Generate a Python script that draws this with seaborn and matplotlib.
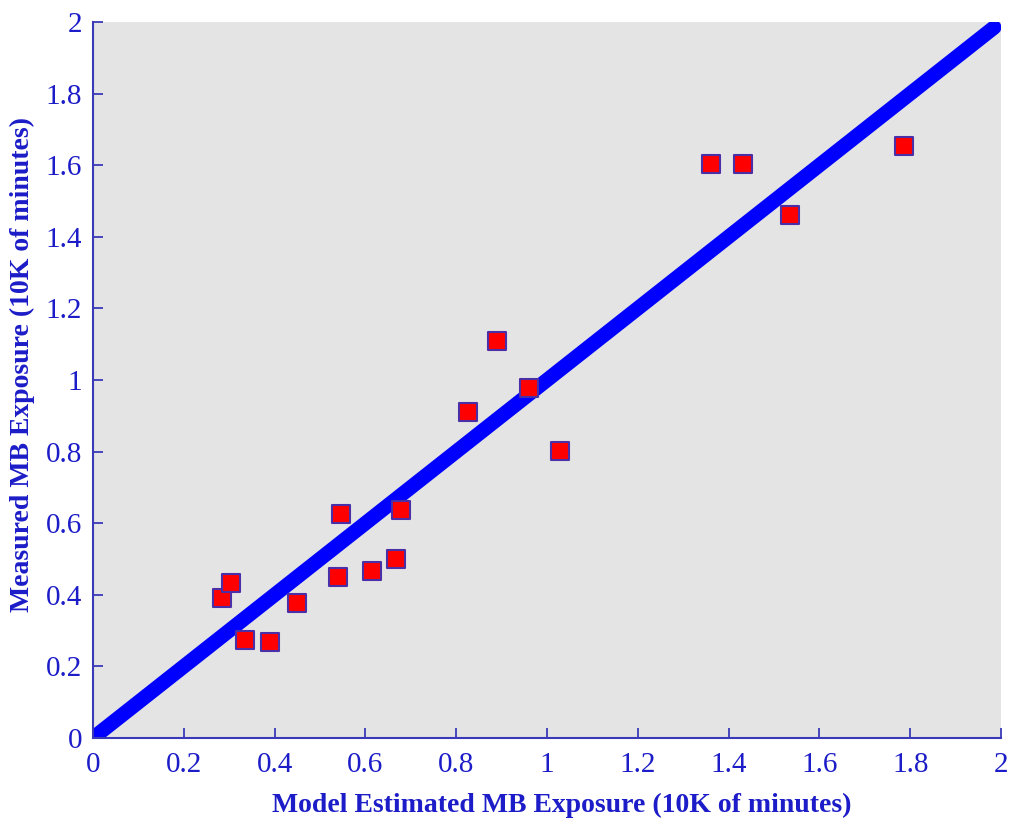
import matplotlib
matplotlib.use("Agg")
import matplotlib.pyplot as plt
import seaborn as sns
import pandas as pd

model_est = [0.284, 0.304, 0.335, 0.390, 0.449, 0.540, 0.546, 0.615, 0.667, 0.678,
             0.826, 0.890, 0.960, 1.029, 1.361, 1.432, 1.535, 1.786]
measured = [0.391, 0.433, 0.274, 0.268, 0.377, 0.450, 0.626, 0.466, 0.500, 0.637,
            0.911, 1.109, 0.978, 0.802, 1.603, 1.603, 1.461, 1.654]
line_x = [0.0, 1.985]
line_y = [0.0, 1.985]
ticks = [0, 0.2, 0.4, 0.6, 0.8, 1, 1.2, 1.4, 1.6, 1.8, 2]
tick_labels = ["0", "0.2", "0.4", "0.6", "0.8", "1", "1.2", "1.4", "1.6", "1.8", "2"]

sns.set_style("white")
plt.rcParams['font.family'] = ['Liberation Serif', 'DejaVu Serif']

TEXT = "#1c1cc8"
AXC = "#3a3ab8"

fig = plt.figure(figsize=(10.10, 8.19), dpi=100)
ax = fig.add_axes([93/1010, 81/819, 908/1010, 716/819])
ax.set_facecolor("#e4e4e4")

df_line = pd.DataFrame({"x": line_x, "y": line_y})
sns.lineplot(data=df_line, x="x", y="y", ax=ax, color="#0000ff", linewidth=10.5,
             solid_capstyle="round", zorder=2)
df_pts = pd.DataFrame({"x": model_est, "y": measured})
sns.scatterplot(data=df_pts, x="x", y="y", ax=ax, marker="s", s=150,
                color="#ff0000", edgecolor="#4a2fa8", linewidth=1.5, zorder=3)

ax.set_xlim(0, 2)
ax.set_ylim(0, 2)
ax.set_xticks(ticks)
ax.set_xticklabels(tick_labels)
ax.set_yticks(ticks)
ax.set_yticklabels(tick_labels)
ax.tick_params(direction="in", length=7, width=1.3, color=AXC, labelcolor=TEXT,
               labelsize=21, pad=8, bottom=True, left=True)
ax.tick_params(axis="x", pad=10)
for side in ["top", "right"]:
    ax.spines[side].set_visible(False)
for side in ["left", "bottom"]:
    ax.spines[side].set_color(AXC)
    ax.spines[side].set_linewidth(1.5)

ax.set_xlabel("Model Estimated MB Exposure (10K of minutes)", color=TEXT,
              fontsize=20, fontweight="bold")
ax.set_ylabel("Measured MB Exposure (10K of minutes)", color=TEXT,
              fontsize=20, fontweight="bold")
ax.xaxis.set_label_coords(0.5165, -0.076)
ax.yaxis.set_label_coords(-0.064, 0.521)

fig.savefig("out.png", dpi=100)
